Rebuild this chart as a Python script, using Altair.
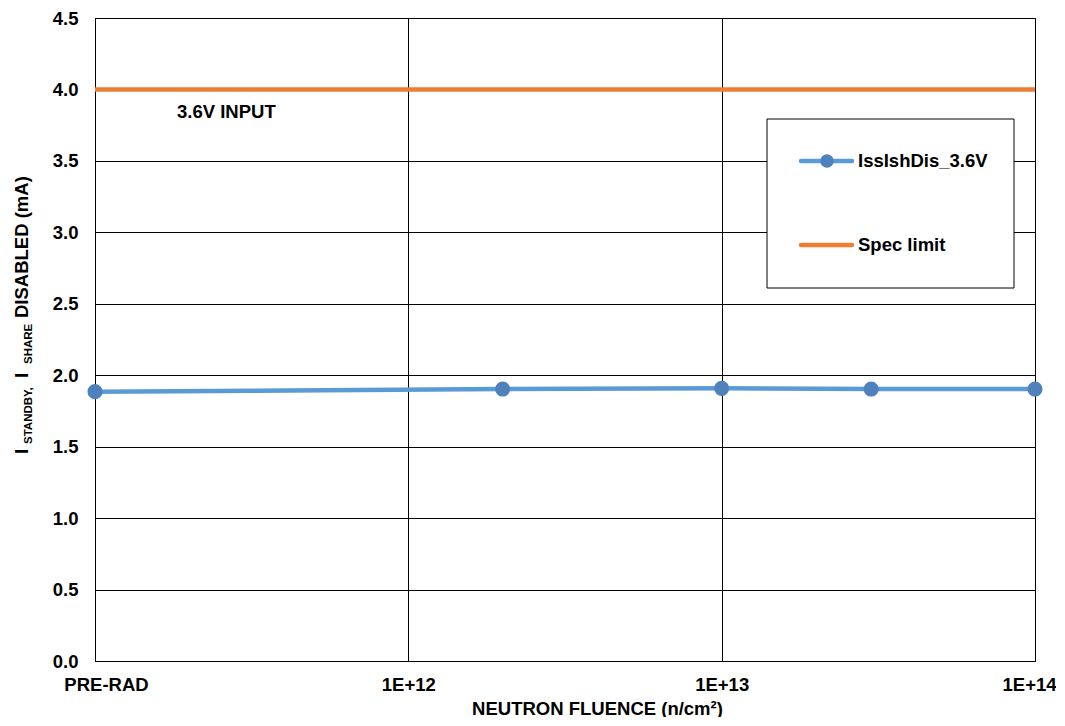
import altair as alt
import pandas as pd

# ---- data ----
fluence = [1e11, 2e12, 1e13, 3e13, 1e14]          # 1e11 plotted as PRE-RAD
current = [1.885, 1.903, 1.908, 1.903, 1.903]       # IssIshDis_3.6V (mA)
spec_limit = [4.0]
x_ticks = [1e11, 1e12, 1e13, 1e14]
y_ticks = [0.0, 0.5, 1.0, 1.5, 2.0, 2.5, 3.0, 3.5, 4.0, 4.5]
series_names = ["IssIshDis_3.6V", "Spec limit"]
annotation = "3.6V INPUT"

BLUE = "#5B9BD5"
MARK = "#4F81BD"
ORANGE = "#ED7D31"
FONT = "Liberation Sans"
FS = 18.5

df = pd.DataFrame({"fluence": fluence, "current": current})
spec_df = pd.DataFrame({"spec": spec_limit})
one = alt.Data(values=[{}])

x_enc = alt.X(
    "fluence:Q",
    scale=alt.Scale(type="log", domain=[1e11, 1e14], nice=False),
    axis=alt.Axis(
        values=x_ticks,
        labelExpr="datum.value < 2e11 ? 'PRE-RAD' : '1E+' + round(log(datum.value)/LN10)",
        labelFlush=False,
        labelOffset={"condition": [
            {"test": "datum.value < 2e11", "value": 11},
            {"test": "datum.value > 5e13", "value": -6},
        ], "value": 0},
        title="NEUTRON FLUENCE (n/cm²)",
        titleX=502, titleY=53, titleBaseline="alphabetic", titleAlign="center",
        labelPadding=14,
    ),
)
y_enc = alt.Y(
    "current:Q",
    scale=alt.Scale(domain=[0, 4.5], nice=False),
    axis=alt.Axis(values=y_ticks, format=".1f", title=None, labelPadding=17),
)

line = alt.Chart(df).mark_line(color=BLUE, strokeWidth=4.5).encode(x=x_enc, y=y_enc)
pts = alt.Chart(df).mark_circle(color=MARK, size=227, opacity=1).encode(x="fluence:Q", y="current:Q")
spec = alt.Chart(spec_df).mark_rule(color=ORANGE, strokeWidth=4.5).encode(y="spec:Q")

note = alt.Chart(one).mark_text(
    text=annotation, font=FONT, fontWeight="bold", fontSize=FS, align="left", baseline="alphabetic", color="black"
).encode(x=alt.value(82), y=alt.value(100))

# legend box
leg_box = alt.Chart(one).mark_rect(fill="white", stroke="black", strokeWidth=1).encode(
    x=alt.value(672), x2=alt.value(919), y=alt.value(101), y2=alt.value(270)
)
leg_l1 = alt.Chart(one).mark_rule(color=BLUE, strokeWidth=4.5, strokeCap="round").encode(
    x=alt.value(706), x2=alt.value(757), y=alt.value(143)
)
leg_p1 = alt.Chart(one).mark_circle(color=MARK, size=180, opacity=1).encode(x=alt.value(732), y=alt.value(143))
leg_t1 = alt.Chart(one).mark_text(
    text=series_names[0], font=FONT, fontWeight="bold", fontSize=FS,
    align="left", baseline="middle", color="black"
).encode(x=alt.value(763), y=alt.value(143))
leg_l2 = alt.Chart(one).mark_rule(color=ORANGE, strokeWidth=4.5, strokeCap="round").encode(
    x=alt.value(706), x2=alt.value(757), y=alt.value(227)
)
leg_t2 = alt.Chart(one).mark_text(
    text=series_names[1], font=FONT, fontWeight="bold", fontSize=FS,
    align="left", baseline="middle", color="black"
).encode(x=alt.value(763), y=alt.value(227))

# y-axis title with subscripts
def ytxt(t, size, x, y):
    return alt.Chart(one).mark_text(
        text=t, font=FONT, fontWeight="bold", fontSize=size, angle=270,
        align="left", baseline="alphabetic", color="black"
    ).encode(x=alt.value(x), y=alt.value(y))

ytitle = [
    ytxt("I", FS, -67, 436),
    ytxt("STANDBY,", 11.5, -63, 426),
    ytxt("I", FS, -67, 360),
    ytxt("SHARE", 11.5, -63, 346),
    ytxt("DISABLED (mA)", FS, -67, 300),
]

chart = alt.layer(
    spec, line, pts, note, leg_box, leg_l1, leg_p1, leg_t1, leg_l2, leg_t2, *ytitle
).properties(
    width=940, height=643,
    autosize=alt.AutoSizeParams(type="none"),
    padding={"left": 87, "top": 10, "right": 21, "bottom": 56},
).configure_view(
    stroke="black", strokeWidth=1
).configure_axis(
    grid=True, gridColor="black", gridWidth=1, gridOpacity=1,
    domainColor="black", domainWidth=1, ticks=False,
    labelFont=FONT, labelFontWeight="bold", labelFontSize=FS, labelColor="black",
    titleFont=FONT, titleFontWeight="bold", titleFontSize=FS, titleColor="black",
)

chart.save("out.html", embed_options={"renderer": "svg", "actions": False})
